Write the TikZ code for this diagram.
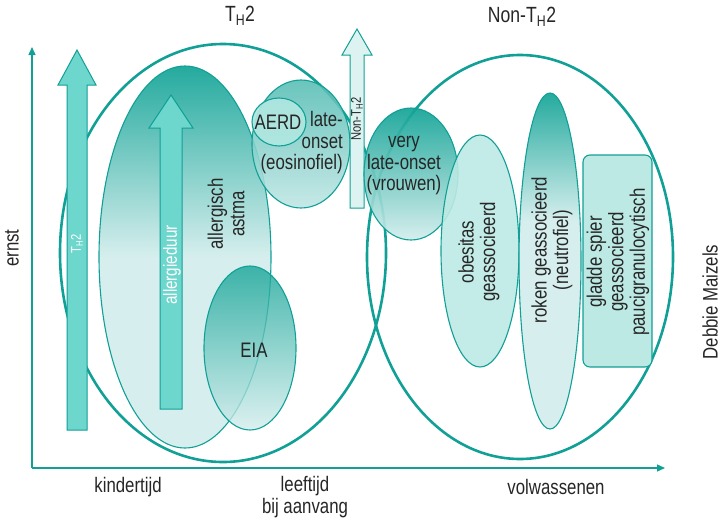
\documentclass[tikz,border=0pt]{standalone}
\usepackage{fontspec}
\setmainfont{Liberation Sans}[FakeStretch=0.8]
\usetikzlibrary{arrows.meta}
\definecolor{tl}{HTML}{11A096}
\definecolor{afill}{HTML}{6DD6CD}
\definecolor{lfill}{HTML}{BCE9E4}
\definecolor{gD}{HTML}{12A396}
\definecolor{gL}{HTML}{D2EDEC}
\definecolor{vlight}{HTML}{DDF3F1}
\definecolor{aerdfill}{HTML}{AEE6E0}
\definecolor{txt}{HTML}{262626}
\pgfdeclareverticalshading{fadeA}{100bp}{color(0bp)=(gL); color(50bp)=(gL); color(75bp)=(gD); color(100bp)=(gD)}
\pgfdeclareverticalshading{fadeR}{100bp}{color(0bp)=(gL); color(56bp)=(gL); color(75bp)=(gD); color(100bp)=(gD)}
\pgfdeclareverticalshading{fadeE}{100bp}{color(0bp)=(gL); color(25bp)=(gL); color(75bp)=(gD); color(100bp)=(gD)}
\pgfdeclareverticalshading{fadeL}{100bp}{color(0bp)=(gL); color(25bp)=(gL!90!gD); color(75bp)=(gD!65!gL); color(100bp)=(gD!65!gL)}
\begin{document}
\begin{tikzpicture}[x=1pt,y=-1pt,
  outline/.style={draw=tl, line width=2.6pt},
  inbox/.style={draw=tl, line width=1.1pt},
  axisline/.style={draw=tl, line width=1.3pt, -{Triangle[length=8pt,width=7pt]}},
  blockarrow/.style={draw=tl, line width=1pt, fill=afill},
  lbl/.style={text=txt, font=\fontsize{21}{21.5}\selectfont, align=center, inner sep=0pt},
  title/.style={text=txt, font=\fontsize{22}{23}\selectfont, inner sep=0pt},
  wlbl/.style={text=white, font=\fontsize{19}{20}\selectfont, inner sep=0pt, rotate=90},
  slbl/.style={font=\fontsize{14}{15}\selectfont, inner sep=0pt, rotate=90}]
\useasboundingbox (0,0) rectangle (722,522);
% axes
\coordinate (O) at (32,468);
\coordinate (ytip) at (32,47);
\coordinate (xtip) at (665,468);
\draw[axisline] (O) -- (ytip);
\draw[axisline] (O) -- (xtip);
% large outlines
\draw[outline] (223,253) ellipse [x radius=163, y radius=209];
\draw[outline] (520,257) ellipse [x radius=153, y radius=202];
% T_H2 block arrow
\draw[blockarrow] (67,430) -- (67,85) -- (58,85) -- (77,50) -- (96,85) -- (87,85) -- (87,430) -- cycle;
\node[slbl, text=white] (thtxt) at (77,244) {T\textsubscript{H}2};
% allergic asthma
\draw[inbox, shade, shading=fadeA, fill opacity=0.92] (185,257) ellipse [x radius=86, y radius=191];
\draw[blockarrow] (160,409) -- (160,128) -- (149,128) -- (171,95) -- (193,128) -- (182,128) -- (182,409) -- cycle;
\node[wlbl] (allergieduur) at (172,265) {allergieduur};
\node[lbl, rotate=90] (allergisch) at (226,214) {allergisch\\astma};
% EIA
\draw[inbox, shade, shading=fadeE, fill opacity=0.78] (250,348) ellipse [x radius=46, y radius=82];
\node[lbl] (eia) at (254,350) {EIA};
% late-onset eosinophilic
\draw[inbox, shade, shading=fadeL, fill opacity=0.88] (301,144) ellipse [x radius=49, y radius=64];
\draw[inbox, fill=aerdfill, fill opacity=0.95] (279,122) ellipse [x radius=27, y radius=24];
\node[lbl] (aerd) at (278,122) {AERD};
\node[lbl, anchor=east, align=right] (lateonset) at (343,143) {late-\\onset\\(eosinofiel)};
% Non-TH2 arrow
\draw[blockarrow, fill=vlight] (350,208) -- (350,55) -- (342,55) -- (357,29) -- (372,55) -- (364,55) -- (364,208) -- cycle;
\node[slbl, text=txt] (nonthtxt) at (357,119) {Non-T\textsubscript{H}2};
% very late-onset
\draw[inbox, shade, shading=fadeE, fill opacity=0.92] (411,174) ellipse [x radius=47, y radius=66];
\node[lbl] (verylate) at (404,166) {very\\late-onset\\(vrouwen)};
% obesity
\draw[inbox, fill=lfill, fill opacity=0.9] (480,251) ellipse [x radius=39, y radius=116];
\node[lbl, rotate=90] (obesitas) at (479,252) {obesitas\\geassocieerd};
% smoking
\draw[inbox, shade, shading=fadeR, fill opacity=0.92] (550,261) ellipse [x radius=31, y radius=168];
\node[lbl, rotate=90] (roken) at (552,250) {roken geassocieerd\\(neutrofiel)};
% smooth muscle
\draw[inbox, fill=lfill, rounded corners=7pt] (583,155) rectangle (652,367);
\node[lbl, rotate=90] (gladde) at (618,262) {gladde spier\\geassocieerd\\paucigranulocytisch};
% titles
\node[title] (th2) at (240,16) {T\textsubscript{H}2};
\node[title] (nonth2) at (522,17) {Non-T\textsubscript{H}2};
% axis labels
\node[lbl, rotate=90] (ernst) at (12,248) {ernst};
\node[lbl] (kinder) at (128,487) {kindertijd};
\node[lbl] (leeftijd) at (305,497) {leeftijd\\bij aanvang};
\node[lbl] (volw) at (556,487) {volwassenen};
\node[lbl, rotate=90] (debbie) at (710,302) {Debbie Maizels};
\end{tikzpicture}
\end{document}
